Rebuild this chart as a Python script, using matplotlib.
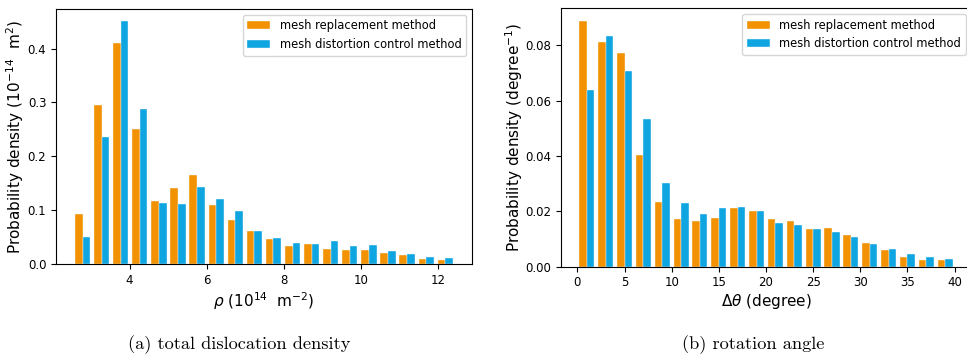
import matplotlib.pyplot as plt
import numpy as np

# total dislocation density, 20 bins
rho_lo, rho_hi, n_bins = 2.53, 12.44, 20
rho_replace = [0.094, 0.296, 0.411, 0.250, 0.1165, 0.1406, 0.165, 0.110, 0.082, 0.061,
               0.0475, 0.0346, 0.0383, 0.0284, 0.0265, 0.0265, 0.0204, 0.0173, 0.0105, 0.0086]
rho_distort = [0.051, 0.236, 0.4507, 0.287, 0.114, 0.1116, 0.1436, 0.1215, 0.0986, 0.0623,
               0.0494, 0.0389, 0.0383, 0.0438, 0.0333, 0.0358, 0.0247, 0.0191, 0.0142, 0.0111]

# rotation angle, 20 bins from 0 to 40 degree
ang_lo, ang_hi = 0, 40
ang_replace = [0.0890, 0.0811, 0.0773, 0.0404, 0.0235, 0.0174, 0.0165, 0.0175, 0.0214, 0.0200,
               0.0173, 0.0165, 0.0135, 0.0141, 0.0113, 0.0086, 0.0059, 0.0036, 0.0025, 0.0023]
ang_distort = [0.0640, 0.0834, 0.0707, 0.0535, 0.0304, 0.0229, 0.0191, 0.0211, 0.0216, 0.0201,
               0.0157, 0.0150, 0.0136, 0.0124, 0.0106, 0.0082, 0.0064, 0.0046, 0.0036, 0.0028]

labels = ['mesh replacement method', 'mesh distortion control method']
colors = ['#F29200', '#0EA5E0']

fig = plt.figure(figsize=(9.67, 3.6), dpi=100)
ax1 = fig.add_axes([0.0579, 0.2658, 0.43, 0.7092])
ax2 = fig.add_axes([0.5797, 0.2592, 0.4248, 0.7178])


def draw(ax, lo, hi, vals_a, vals_b):
    edges = np.linspace(lo, hi, n_bins + 1)
    mids = (edges[:-1] + edges[1:]) / 2
    ax.hist([mids, mids], bins=edges, weights=[vals_a, vals_b], color=colors,
            label=labels, edgecolor='#f4f8ff', linewidth=0.3)
    ax.tick_params(labelsize=8.5)
    ax.legend(loc='upper right', fontsize=8.3)


draw(ax1, rho_lo, rho_hi, rho_replace, rho_distort)
ax1.set_xlabel(r'$\rho$ (10$^{14}$  m$^{-2}$)', fontsize=11, labelpad=2)
ax1.set_ylabel(r'Probability density (10$^{-14}$  m$^{2}$)', fontsize=11, labelpad=1)
ax1.set_yticks([0.0, 0.1, 0.2, 0.3, 0.4])

draw(ax2, ang_lo, ang_hi, ang_replace, ang_distort)
ax2.set_xlabel(r'$\Delta\theta$ (degree)', fontsize=11, labelpad=2)
ax2.set_ylabel(r'Probability density (degree$^{-1}$)', fontsize=11, labelpad=0)

fig.text(0.247, 0.042, '(a) total dislocation density', family='cmr10',
         fontsize=13.2, ha='center', va='center')
fig.text(0.779, 0.042, '(b) rotation angle', family='cmr10',
         fontsize=13.2, ha='center', va='center')

fig.savefig('out.png', dpi=100)
